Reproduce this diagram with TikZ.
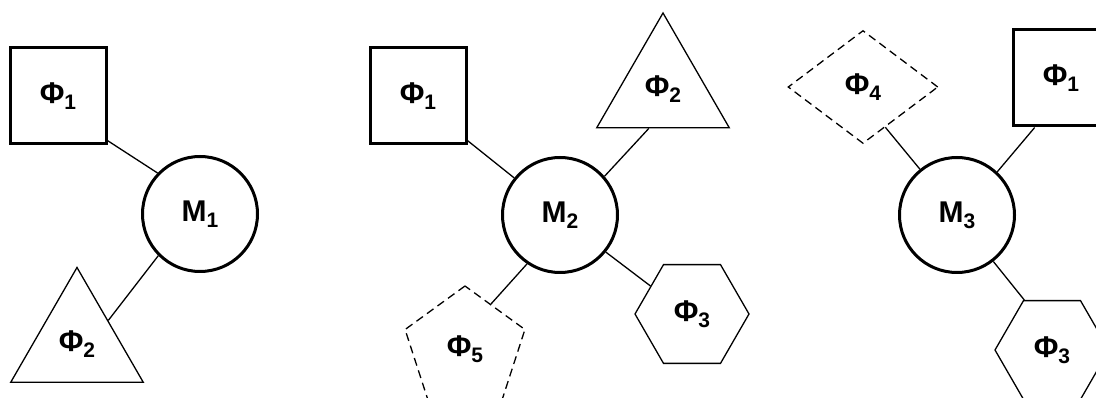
\documentclass[tikz,border=0pt]{standalone}
\usepackage{fontspec}
\setmainfont{Liberation Sans}
\usetikzlibrary{shapes.geometric}
\newcommand{\philab}[1]{{\fontsize{30}{30}\selectfont\bfseries Φ\raisebox{-6pt}{\fontsize{21}{21}\selectfont #1}}}
\newcommand{\mlab}[1]{{\fontsize{30}{30}\selectfont\bfseries M\raisebox{-6pt}{\fontsize{21}{21}\selectfont #1}}}
\tikzset{
  mcirc/.style={draw, circle, line width=3pt, minimum size=115pt, inner sep=0pt},
  sqbox/.style={draw, rectangle, line width=3pt, minimum size=96pt, inner sep=0pt},
  tri/.style={draw, regular polygon, regular polygon sides=3, line width=1.3pt, minimum size=153pt, inner sep=0pt},
  hexa/.style={draw, regular polygon, regular polygon sides=6, line width=1.3pt, minimum size=114pt, inner sep=0pt},
  penta/.style={draw, regular polygon, regular polygon sides=5, line width=1.3pt, dash pattern=on 8pt off 5pt, minimum size=126pt, inner sep=0pt},
  diam/.style={draw, diamond, line width=1.3pt, dash pattern=on 8pt off 5pt, minimum width=150pt, minimum height=113pt, inner sep=0pt},
  link/.style={draw, line width=1.3pt},
}
\begin{document}
\begin{tikzpicture}[x=1pt, y=-1pt]
\useasboundingbox (0,0) rectangle (1096,398);
% panel 1
\node[mcirc] (M1) at (200,214) {\mlab{1}};
\node[sqbox] (S1a) at (58,96) {\philab{1}};
\node[tri] (T2a) at (77,344) {\philab{2}};
\draw[link] (S1a.-42.5) -- (M1.136);
\draw[link] (M1.225) -- (T2a.37);
% panel 2
\node[mcirc] (M2) at (560,215) {\mlab{2}};
\node[sqbox] (S1b) at (418,96) {\philab{1}};
\node[tri] (T2b) at (663,89.5) {\philab{2}};
\node[hexa] (H3b) at (692,314) {\philab{3}};
\node[penta] (P5b) at (465,349) {\philab{5}};
\draw[link] (S1b.-42.5) -- (M2.141);
\draw[link] (M2.41) -- (T2b.-110);
\draw[link] (M2.-39.4) -- (H3b.146);
\draw[link] (M2.-124) -- (P5b.60.4);
% panel 3
\node[mcirc] (M3) at (957,215) {\mlab{3}};
\node[diam] (D4c) at (863,87) {\philab{4}};
\node[sqbox] (S1c) at (1061,78) {\philab{1}};
\node[hexa] (H3c) at (1052,350) {\philab{3}};
\draw[link] (M3.129) -- (D4c.-61);
\draw[link] (M3.47) -- (S1c.-118.4);
\draw[link] (M3.-52.5) -- (H3c.119);
\end{tikzpicture}
\end{document}
